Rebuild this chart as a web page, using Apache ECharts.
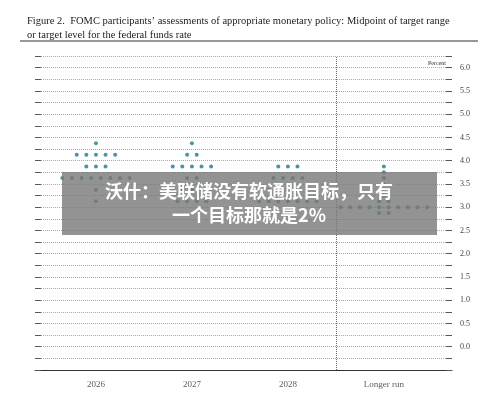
<!DOCTYPE html>
<html><head><meta charset="utf-8">
<script src="https://cdn.jsdelivr.net/npm/echarts@6/dist/echarts.min.js"></script>
<style>body{margin:0;background:#fff}#c{width:500px;height:409px}</style>
</head><body><div id="c"></div>
<script>
const categories = ['2026', '2027', '2028', 'Longer run'];
const rates = [4.375, 4.125, 3.875, 3.75, 3.625, 3.5, 3.375, 3.25, 3.125, 3.0, 2.875];
// dot counts per rate level for each category
const counts2026 = [1, 5, 3, 0, 8, 0, 1, 0, 1, 0, 0];
const counts2027 = [1, 2, 5, 0, 2, 0, 5, 0, 4, 0, 0];
const counts2028 = [0, 0, 3, 0, 4, 0, 5, 0, 7, 0, 0];
const countsLong = [0, 0, 1, 1, 1, 1, 0, 1, 2, 10, 2];
const yTicks = [0, 0.5, 1, 1.5, 2, 2.5, 3, 3.5, 4, 4.5, 5, 5.5, 6];

const all = [counts2026, counts2027, counts2028, countsLong];
const dots = [];
all.forEach((cs, i) => cs.forEach((n, r) => {
  for (let j = 0; j < n; j++) dots.push([i + (j - (n - 1) / 2) * 0.1, rates[r]]);
}));

const yBase = {
  type: 'value', min: -0.5, max: 6.25, interval: 0.25,
  axisLine: {show: false, onZero: false},
  axisTick: {show: true, inside: true, length: 6, lineStyle: {color: '#555'}}
};

const chart = echarts.init(document.getElementById('c'));
chart.setOption({
  animation: false,
  title: {
    text: 'Figure 2.  FOMC participants\u2019 assessments of appropriate monetary policy: Midpoint of target range\nor target level for the federal funds rate',
    left: 22, top: 9,
    textStyle: {fontFamily: 'Liberation Serif', fontWeight: 'normal', fontSize: 10.5, color: '#222', lineHeight: 14}
  },
  grid: {left: 35, right: 48, top: 56, bottom: 39},
  xAxis: {
    type: 'value', min: -0.635, max: 3.71,
    axisLine: {show: true, onZero: false, lineStyle: {color: '#333'}},
    axisTick: {show: false}, splitLine: {show: false},
    axisLabel: {show: false}
  },
  yAxis: [
    Object.assign({}, yBase, {
      position: 'right',
      axisLabel: {
        fontFamily: 'Liberation Serif', fontSize: 8, color: '#444', margin: 8,
        formatter: v => (yTicks.indexOf(v) >= 0 ? v.toFixed(1) : '')
      },
      splitLine: {lineStyle: {color: '#aaa', type: 'dotted', width: 1}}
    }),
    Object.assign({}, yBase, {
      position: 'left', axisLabel: {show: false}, splitLine: {show: false}
    })
  ],
  graphic: [
    {type: 'line', shape: {x1: 20, y1: 41, x2: 478, y2: 41}, style: {stroke: '#333', lineWidth: 1}},
    {type: 'text', left: 428, top: 60, style: {text: 'Percent', font: '6px Liberation Serif', fill: '#333'}},
    {type: 'rect', shape: {x: 62, y: 172, width: 375, height: 63}, style: {fill: 'rgba(120,120,120,0.8)'}, z: 100},
    {type: 'text', x: 249, y: 203, z: 101, style: {text: '沃什：美联储没有软通胀目标，只有\n一个目标那就是2%', font: 'bold 18px "Noto Sans CJK SC"', fill: '#fff', align: 'center', verticalAlign: 'middle', lineHeight: 24}}
  ],
  series: [
    {
      type: 'scatter', data: dots, symbolSize: 4,
      itemStyle: {color: '#1a7a8c'},
      markLine: {
        silent: true, symbol: 'none', label: {show: false},
        data: [{xAxis: 2.5, lineStyle: {color: '#666', type: 'dotted', width: 1}}]
      }
    },
    {
      type: 'scatter', data: categories.map((c, i) => [i, -0.5]), symbolSize: 0,
      label: {show: true, position: 'bottom', distance: 10, formatter: p => categories[p.dataIndex],
        fontFamily: 'Liberation Serif', fontSize: 9, color: '#333'}
    }
  ]
});
</script></body></html>
